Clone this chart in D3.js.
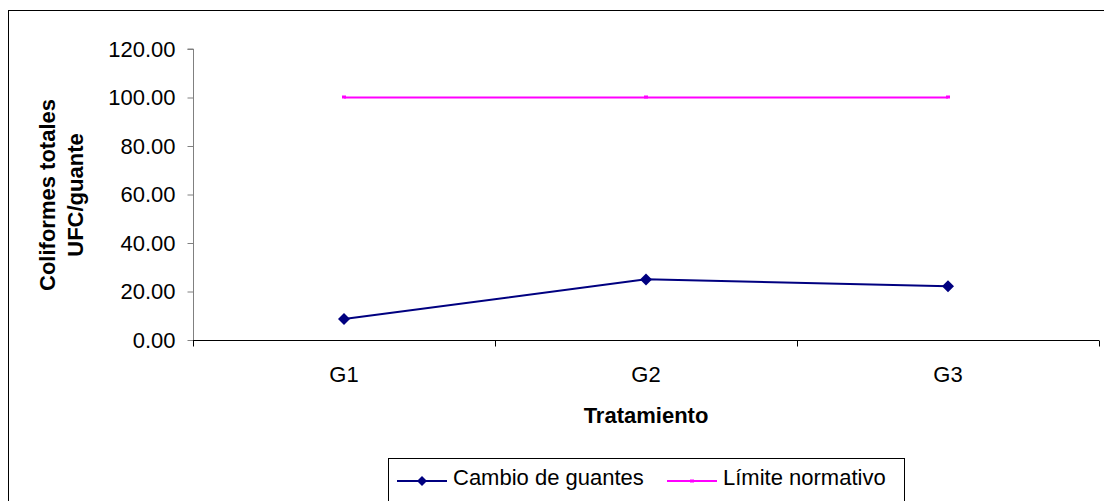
<!DOCTYPE html>
<html><head><meta charset="utf-8">
<script src="https://cdn.jsdelivr.net/npm/d3@7"></script>
<style>body{margin:0;background:#fff}svg{display:block}</style>
</head><body>
<svg id="c" width="1104" height="501"></svg>
<script>
const categories = ["G1", "G2", "G3"];
const cambio = [8.7, 25.0, 22.2];
const limite = [100, 100, 100];
const yTicks = [0, 20, 40, 60, 80, 100, 120];
const seriesNames = ["Cambio de guantes", "Límite normativo"];

const svg = d3.select("#c");
const font = "Arial, 'Liberation Sans', sans-serif";
const FS = 22;
// outer frame
svg.append("rect").attr("x", 8.5).attr("y", 10.5).attr("width", 1110).attr("height", 510)
  .attr("fill", "#fff").attr("stroke", "#000").attr("stroke-width", 1);

const L = 193, R = 1099, T = 49, B = 340;
const x = d3.scaleBand().domain(categories).range([L, R]);
const y = d3.scaleLinear().domain([0, 120]).range([B, T]);

// y axis
const ya = svg.append("g").attr("transform", `translate(${L + 0.5},0)`)
  .call(d3.axisLeft(y).tickValues(yTicks).tickSize(6).tickFormat(d3.format(".2f")));
ya.select(".domain").attr("stroke", "#808080").attr("d", `M-6,${T}H0V${B}`);
ya.selectAll(".tick line").attr("stroke", "#808080");
ya.selectAll(".tick text").attr("font-family", font).attr("font-size", FS).attr("fill", "#000").attr("x", -18);

// x axis
const xa = svg.append("g").attr("transform", `translate(0,${B + 0.5})`);
xa.append("line").attr("x1", L).attr("x2", R).attr("stroke", "#000");
const bounds = categories.map(c => x(c)).concat([R]);
xa.selectAll("line.t").data(bounds).join("line").attr("class", "t")
  .attr("x1", d => d + 0.5).attr("x2", d => d + 0.5).attr("y1", 0).attr("y2", 6).attr("stroke", "#000");
xa.selectAll("text").data(categories).join("text")
  .attr("x", d => x(d) + x.bandwidth() / 2).attr("y", 41.5)
  .attr("text-anchor", "middle").attr("font-family", font).attr("font-size", FS).text(d => d);

// axis titles
svg.append("text").attr("x", 646).attr("y", 423).attr("text-anchor", "middle")
  .attr("font-family", font).attr("font-size", FS).attr("font-weight", "bold").text("Tratamiento");
const yt = svg.append("text").attr("transform", "translate(0,195) rotate(-90)")
  .attr("text-anchor", "middle").attr("font-family", font).attr("font-size", FS).attr("font-weight", "bold");
yt.append("tspan").attr("x", 0).attr("y", 55).text("Coliformes totales");
yt.append("tspan").attr("x", 0).attr("y", 83).text("UFC/guante");

const cx = d => x(d) + x.bandwidth() / 2;
const line = d3.line().x((d, i) => cx(categories[i])).y(d => y(d));

// limit series
svg.append("path").datum(limite).attr("d", line).attr("fill", "none").attr("stroke", "#FF00FF").attr("stroke-width", 2);
svg.selectAll("rect.lm").data(limite).join("rect").attr("class", "lm")
  .attr("x", (d, i) => cx(categories[i]) - 2).attr("y", d => y(d) - 2).attr("width", 4).attr("height", 3).attr("fill", "#FF00FF");

// cambio series
svg.append("path").datum(cambio).attr("d", line).attr("fill", "none").attr("stroke", "#000080").attr("stroke-width", 2);
svg.selectAll("path.cm").data(cambio).join("path").attr("class", "cm")
  .attr("transform", (d, i) => `translate(${cx(categories[i])},${y(d)})`)
  .attr("d", "M0,-6L6,0L0,6L-6,0Z").attr("fill", "#000080");

// legend
const lg = svg.append("g");
lg.append("rect").attr("x", 388.5).attr("y", 458.5).attr("width", 516).attr("height", 60)
  .attr("fill", "#fff").attr("stroke", "#000");
const items = [
  {name: seriesNames[0], color: "#000080", x0: 397, marker: "diamond"},
  {name: seriesNames[1], color: "#FF00FF", x0: 667, marker: "square"}
];
items.forEach(it => {
  lg.append("line").attr("x1", it.x0).attr("x2", it.x0 + 50).attr("y1", 481).attr("y2", 481)
    .attr("stroke", it.color).attr("stroke-width", 2);
  if (it.marker === "diamond") {
    lg.append("path").attr("transform", `translate(${it.x0 + 25},481)`).attr("d", "M0,-5L5,0L0,5L-5,0Z").attr("fill", it.color);
  } else {
    lg.append("rect").attr("x", it.x0 + 23).attr("y", 479.5).attr("width", 4).attr("height", 3).attr("fill", it.color);
  }
  lg.append("text").attr("x", it.x0 + 56).attr("y", 485).attr("font-family", font).attr("font-size", FS).text(it.name);
});
</script>
</body></html>
